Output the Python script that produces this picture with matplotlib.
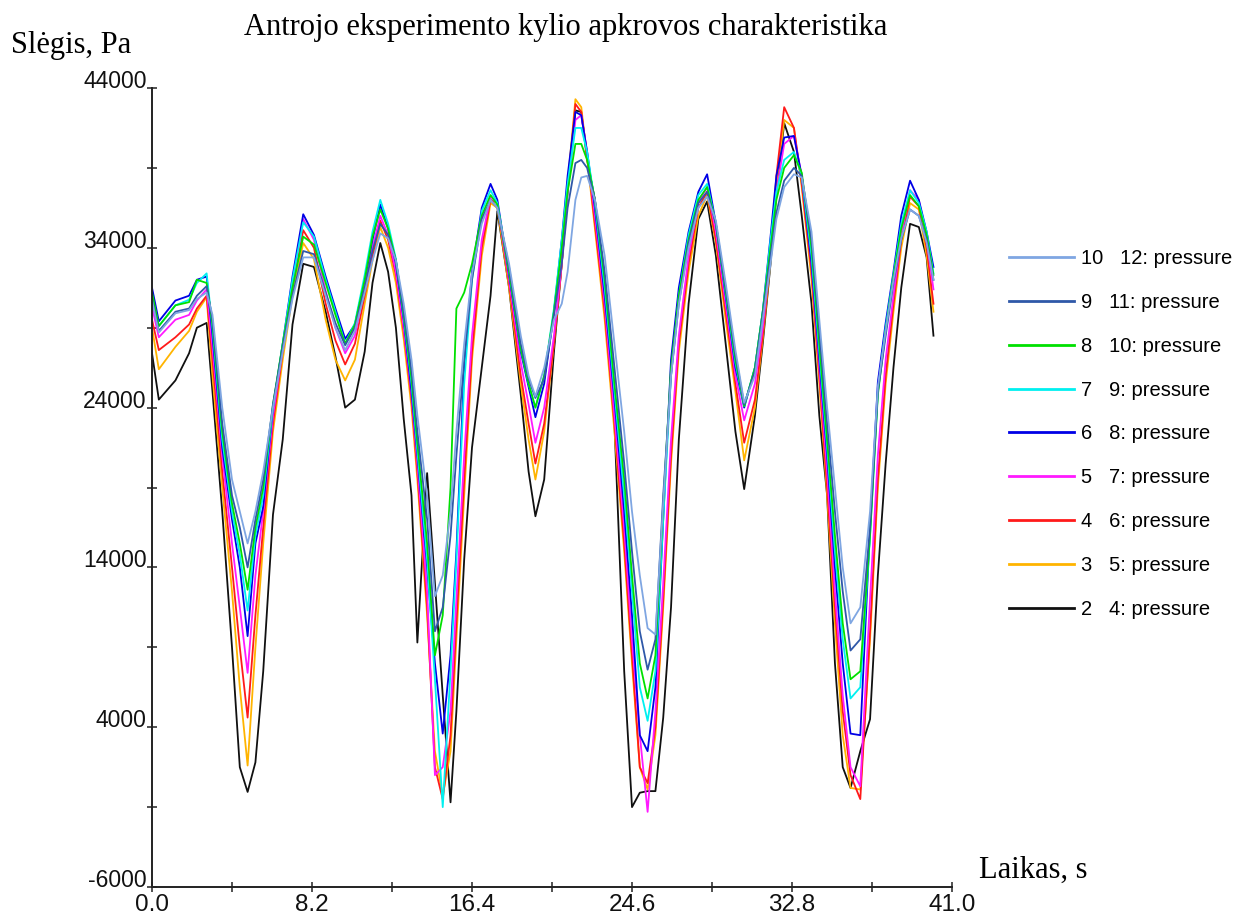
import matplotlib
matplotlib.use("Agg")
import matplotlib.pyplot as plt
from matplotlib.ticker import FixedLocator, FormatStrFormatter

plt.rcParams['axes.unicode_minus'] = False

# time axis, s
time_s = [
    0.0, 0.35, 1.2, 1.9, 2.3, 2.8, 3.1, 3.6, 4.1, 4.5,
    4.9, 5.3, 5.7, 6.2, 6.7, 7.2, 7.75, 8.3, 8.9, 9.4,
    9.9, 10.4, 10.9, 11.3, 11.7, 12.1, 12.5, 12.9, 13.3, 13.6,
    14.1, 14.5, 14.9, 15.3, 15.6, 16.0, 16.4, 16.9, 17.35, 17.7,
    18.3, 18.9, 19.3, 19.65, 20.1, 20.6, 21.0, 21.3, 21.7, 22.0,
    22.3, 22.7, 23.2, 23.7, 24.2, 24.6, 25.0, 25.4, 25.8, 26.2,
    26.6, 27.0, 27.5, 28.0, 28.45, 28.9, 29.4, 29.9, 30.35, 30.9,
    31.3, 31.7, 32.0, 32.4, 32.9, 33.3, 33.8, 34.2, 34.6, 35.0,
    35.4, 35.8, 36.3, 36.8, 37.2, 37.6, 38.0, 38.4, 38.85, 39.3,
    39.7, 40.05]

# pressure, Pa
p2 = [
    27400, 24500, 25700, 27400, 29000, 29300, 25000, 17500, 9000, 1500,
    -50, 1800, 7500, 17300, 22000, 29200, 33000, 32800, 30000, 27200,
    24000, 24500, 27500, 31800, 34300, 32500, 29000, 23300, 18500, 9300,
    19900, 13000, 6000, -700, 5000, 14500, 21500, 26500, 31000, 36300,
    31500, 24800, 20000, 17200, 19500, 27500, 33000, 37500, 42600, 42500,
    39500, 37000, 30500, 23000, 7500, -1000, -100, 0, 0, 4600,
    11500, 22000, 30500, 35800, 36900, 33500, 28000, 22500, 18900, 23500,
    28000, 33000, 37500, 41800, 40000, 36000, 30500, 23500, 18500, 8000,
    1500, 200, 2500, 4500, 13500, 20500, 26500, 31500, 35500, 35300,
    33400, 28500]
p3 = [
    29000, 26400, 27800, 28800, 30000, 30900, 26000, 19000, 12500, 6500,
    1600, 9000, 15500, 22500, 27000, 31000, 34300, 33300, 29500, 27000,
    25700, 27000, 30500, 33200, 35300, 34000, 31800, 28300, 24000, 19500,
    11000, 2500, -300, 2500, 9500, 18500, 27000, 33500, 36800, 36500,
    31500, 25500, 22000, 19500, 22500, 28000, 33000, 38000, 43300, 42800,
    39600, 35200, 29500, 22500, 15000, 8000, 1500, 100, 3500, 11500,
    20500, 27500, 32500, 36000, 37300, 34300, 29500, 25000, 20700, 24000,
    28300, 33200, 38000, 42000, 41500, 37800, 32000, 25500, 18500, 10500,
    3500, 200, 100, 9500, 19000, 25500, 30000, 34000, 36800, 36400,
    33500, 30000]
p4 = [
    29500, 27600, 28400, 29200, 30200, 31000, 27000, 20000, 14000, 9000,
    4600, 11000, 16500, 23000, 27500, 31500, 35100, 34000, 30500, 28200,
    26700, 28000, 31000, 33500, 35700, 34500, 32300, 28800, 24500, 20000,
    11500, 1500, -500, 3500, 10500, 19500, 27500, 34000, 37000, 36800,
    31800, 26000, 23000, 20500, 23000, 28000, 33000, 37800, 43000, 42500,
    39800, 35500, 30000, 23000, 15500, 8500, 1500, 500, 4000, 12000,
    21000, 28000, 33000, 36500, 37500, 34500, 30000, 25500, 21800, 24500,
    28500, 33500, 38500, 42800, 41500, 38000, 32500, 26000, 19000, 11500,
    5000, 1000, -500, 10000, 19500, 26000, 30500, 34500, 37200, 36600,
    34000, 30500]
p5 = [
    30300, 28400, 29500, 29800, 30700, 31400, 27800, 21000, 15500, 11500,
    7400, 13500, 17500, 23500, 27700, 31800, 35800, 34500, 31300, 29000,
    27400, 28500, 31500, 34000, 36000, 34800, 32500, 29000, 24800, 20500,
    12500, 1000, 1500, 5000, 12000, 21000, 28500, 34500, 37200, 36800,
    32000, 26800, 24200, 21800, 24000, 28500, 33000, 37500, 42000, 42300,
    40000, 36000, 30500, 23500, 16500, 9500, 3500, -1300, 5000, 13000,
    22000, 28500, 33500, 36800, 37800, 35000, 30500, 26000, 23200, 25500,
    29000, 33500, 37500, 40500, 41000, 38500, 33000, 26500, 20000, 12500,
    6000, 1500, 300, 12000, 21000, 27000, 31000, 34800, 37600, 37000,
    34500, 31400]
p6 = [
    31500, 29400, 30700, 31000, 32000, 32200, 28500, 21500, 17000, 14000,
    9700, 15500, 17800, 24000, 28000, 32200, 36100, 34800, 32200, 30200,
    28300, 29200, 32000, 34500, 36700, 35200, 33000, 29500, 25000, 21000,
    14000, 8000, 3600, 8500, 15000, 26500, 32500, 36500, 38000, 37000,
    32300, 27500, 25300, 23400, 25500, 30000, 34500, 38500, 42500, 42300,
    40000, 36500, 31000, 24500, 17500, 11000, 3500, 2500, 6500, 17000,
    27000, 31500, 35000, 37500, 38600, 35500, 31000, 26500, 24000, 26500,
    30000, 34700, 38500, 40900, 41000, 38500, 33000, 27000, 21000, 14000,
    8000, 3600, 3500, 16500, 25600, 29300, 32500, 36000, 38200, 37000,
    35000, 32800]
p7 = [
    31000, 29100, 30400, 30750, 31800, 32400, 29000, 22000, 17500, 14800,
    11300, 16000, 18500, 24000, 28000, 32000, 35600, 34700, 32000, 30000,
    28000, 29300, 32300, 35000, 37000, 35500, 33300, 29700, 25500, 21300,
    14500, 7000, -1000, 7500, 14500, 25500, 32000, 36300, 37600, 36800,
    32500, 27700, 25500, 24000, 26000, 30200, 34500, 38000, 41500, 41500,
    40000, 36800, 31500, 25000, 18500, 12500, 6500, 4400, 7500, 17000,
    26000, 31000, 34800, 37300, 38000, 35500, 31200, 26800, 24100, 26500,
    30000, 34500, 37500, 39500, 40000, 38500, 33500, 27500, 21500, 15000,
    9500, 5800, 6500, 16000, 25000, 29000, 32300, 35500, 37600, 36800,
    35000, 32400]
p8 = [
    31200, 29100, 30400, 30600, 32000, 31800, 29200, 22500, 18000, 15500,
    12600, 16500, 19000, 24200, 28000, 31500, 34700, 34200, 31800, 29800,
    28000, 29200, 32000, 34700, 36400, 35200, 33200, 29800, 25800, 21800,
    15500, 8500, 11000, 19000, 30200, 31200, 33000, 36000, 37300, 36700,
    32500, 27700, 25500, 24000, 26000, 30000, 34000, 37500, 40500, 40500,
    39500, 37000, 32000, 25500, 19500, 13500, 8000, 5800, 8500, 18000,
    26500, 31000, 34500, 37000, 37800, 35500, 31300, 27000, 24100, 26500,
    30000, 34000, 37000, 39000, 39800, 38700, 34000, 28000, 22000, 16000,
    10500, 7000, 7500, 16000, 24800, 28800, 32200, 35200, 37300, 36600,
    34800, 32300]
p9 = [
    30800, 28800, 30000, 30200, 31000, 31600, 29500, 23000, 18500, 16500,
    14000, 17000, 19500, 24200, 27800, 31000, 33800, 33600, 31200, 29300,
    27900, 29000, 31500, 33800, 35500, 34800, 33200, 30000, 26300, 22500,
    17000, 10000, 11500, 16000, 21000, 27000, 32000, 35800, 37000, 36500,
    32800, 28000, 25800, 24600, 25800, 29800, 33000, 36500, 39300, 39500,
    39000, 37000, 32500, 26500, 20500, 15000, 10000, 7600, 9500, 18500,
    26000, 30500, 34300, 36800, 37500, 35500, 31500, 27300, 24200, 26300,
    29800, 33500, 36200, 38200, 39000, 38500, 34500, 28800, 23000, 17500,
    12500, 8800, 9500, 16500, 25000, 28500, 31800, 34500, 36400, 36000,
    34500, 32000]
p10 = [
    30700, 28700, 29900, 30100, 30800, 31200, 29800, 24000, 19500, 17500,
    15500, 17500, 20000, 24000, 27500, 30800, 33400, 33400, 31000, 29000,
    27600, 28800, 31200, 33200, 34900, 34600, 33200, 30500, 27000, 23500,
    18500, 12200, 13500, 17500, 22500, 28000, 32400, 35500, 37000, 36500,
    33000, 28500, 26000, 24700, 26500, 29500, 30500, 32500, 37000, 38400,
    38500, 37000, 33500, 28000, 22500, 17500, 13500, 10200, 9800, 18000,
    26000, 30500, 34000, 36500, 37200, 35700, 31800, 27600, 24300, 26000,
    29500, 33000, 35800, 37800, 38600, 38400, 35000, 29500, 24000, 19000,
    14000, 10500, 11500, 17500, 25300, 28800, 32000, 34600, 36400, 36000,
    34300, 32000]

curve_ids = ["2", "3", "4", "5", "6", "7", "8", "9", "10"]
probe_ids = ["4", "5", "6", "7", "8", "9", "10", "11", "12"]
curves = [p2, p3, p4, p5, p6, p7, p8, p9, p10]
colors = ["#101010", "#ffb400", "#ff1a1a", "#ff1aff", "#0000e6",
          "#00f0f0", "#00e000", "#2f58a8", "#7fa6e2"]

x_major = [0.0, 8.2, 16.4, 24.6, 32.8, 41.0]
x_minor = [4.1, 12.3, 20.5, 28.7, 36.9]
y_major = [-6000, 4000, 14000, 24000, 34000, 44000]
y_minor = [-1000, 9000, 19000, 29000, 39000]

fig = plt.figure(figsize=(12.37, 9.17), dpi=100)
ax = fig.add_axes([152 / 1237, 30 / 917, 800 / 1237, 799 / 917])

lines = []
for cid, pid, vals, col in zip(curve_ids, probe_ids, curves, colors):
    ln, = ax.plot(time_s, vals, color=col, lw=1.3, label=f"{cid}   {pid}: pressure")
    lines.append(ln)

ax.set_xlim(0, 41)
ax.set_ylim(-6000, 44000)
ax.spines['top'].set_visible(False)
ax.spines['right'].set_visible(False)
for s in ['left', 'bottom']:
    ax.spines[s].set_linewidth(1.4)
    ax.spines[s].set_color('#222222')

ax.xaxis.set_major_locator(FixedLocator(x_major))
ax.xaxis.set_minor_locator(FixedLocator(x_minor))
ax.xaxis.set_major_formatter(FormatStrFormatter('%.1f'))
ax.yaxis.set_major_locator(FixedLocator(y_major))
ax.yaxis.set_minor_locator(FixedLocator(y_minor))
ax.tick_params(which='both', direction='inout', length=7.5, width=1.1, color='#222222')
ax.tick_params(axis='x', labelsize=17.5, pad=1)
ax.tick_params(axis='y', labelsize=16.5, pad=0)
for lab in ax.get_xticklabels() + ax.get_yticklabels():
    lab.set_family('Liberation Sans')
    lab.set_color('#111111')
for lab in ax.get_yticklabels():
    lab.set_verticalalignment('baseline')

fig.text(566 / 1237, 1 - 35 / 917, "Antrojo eksperimento kylio apkrovos charakteristika",
         ha='center', va='baseline', fontsize=22, family='Liberation Serif')
fig.text(11 / 1237, 1 - 53 / 917, "Slėgis, Pa", ha='left', va='baseline',
         fontsize=22, family='Liberation Serif')
fig.text(979 / 1237, 1 - 878 / 917, "Laikas, s", ha='left', va='baseline',
         fontsize=22, family='Liberation Serif')

leg = fig.legend(lines[::-1], [l.get_label() for l in lines[::-1]],
                 loc='upper left', bbox_to_anchor=(1009 / 1237, 1 - 249 / 917),
                 frameon=False, borderpad=0, borderaxespad=0, handlelength=3.23,
                 handletextpad=0.35, labelspacing=1.235,
                 prop={'family': 'Liberation Sans', 'size': 14.5})
for h in leg.get_lines():
    h.set_linewidth(2)

fig.savefig("out.png", dpi=100)
